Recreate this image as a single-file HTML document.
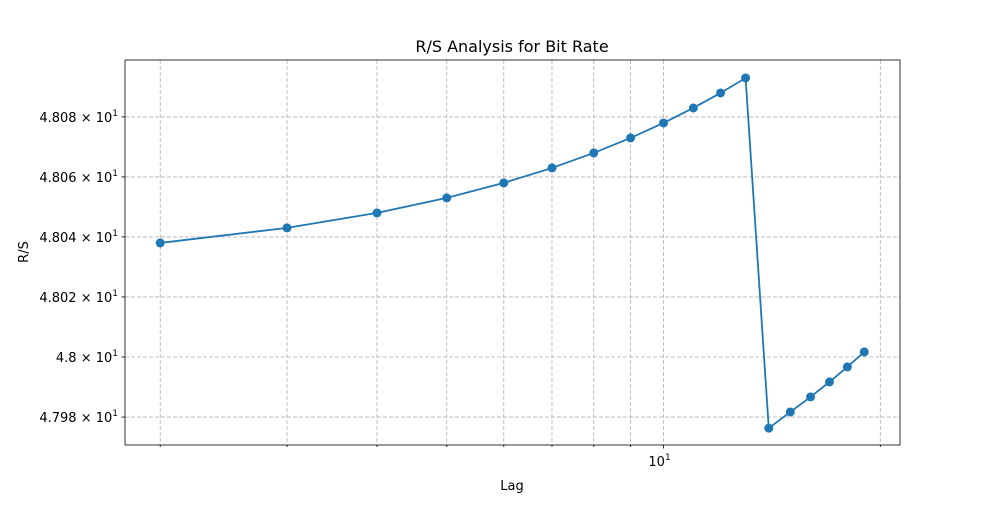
<!DOCTYPE html>
<html><head><meta charset="utf-8"><style>
body{margin:0;background:#fff;}
svg{font-family:"DejaVu Sans","Liberation Sans",sans-serif;}
</style></head><body>
<svg id="chart" width="1000" height="500">
<rect width="1000" height="500" fill="#fff"/>
<text x="512" y="52" text-anchor="middle" font-size="16">R/S Analysis for Bit Rate</text>
<g id="grid"></g>
<g id="axes"></g>
<g id="series"></g>
<text x="512" y="490" text-anchor="middle" font-size="13">Lag</text>
<text transform="translate(28,252) rotate(-90)" text-anchor="middle" font-size="13">R/S</text>
</svg>
<script>
const lags = [2,3,4,5,6,7,8,9,10,11,12,13,14,15,16,17,18,19];
const rsValues = [48.038,48.043,48.048,48.053,48.058,48.063,48.068,48.073,48.078,48.083,48.088,48.093,47.9763,47.9817,47.9867,47.9917,47.9967,48.0017];
const xGridTicks = [2,3,4,5,6,7,8,9,10,20];
const yTicks = [47.98,48.00,48.02,48.04,48.06,48.08];
const yTickLabels = ["4.798","4.8","4.802","4.804","4.806","4.808"];

const L=125,R=900,T=60,B=445;
const xMin=1.787,xMax=21.30,yMin=47.9707,yMax=48.099;
const ns="http://www.w3.org/2000/svg";
function xs(v){return L+(Math.log10(v)-Math.log10(xMin))/(Math.log10(xMax)-Math.log10(xMin))*(R-L);}
function ys(v){return B-(Math.log10(v)-Math.log10(yMin))/(Math.log10(yMax)-Math.log10(yMin))*(B-T);}
function mk(tag,attrs,parent){const e=document.createElementNS(ns,tag);for(const k in attrs)e.setAttribute(k,attrs[k]);parent.appendChild(e);return e;}
const grid=document.getElementById('grid'),axes=document.getElementById('axes'),series=document.getElementById('series');

xGridTicks.forEach(v=>{
  const x=xs(v);
  const g=mk('line',{x1:x,x2:x,y1:T,y2:B,stroke:'#b0b0b0','stroke-dasharray':'4,2','stroke-width':0.8},grid);
  
  
  const major=(v===10);
  const t=mk('line',{x1:x,x2:x,y1:B,y2:B+(major?3.5:2),stroke:'#000','stroke-width':0.8},axes);
  
  
  if(major){
    const tx=mk('text',{x:x-4,y:B+21,'text-anchor':'middle','font-size':13},axes);
    tx.innerHTML='10<tspan font-size="9" dy="-6">1</tspan>';
    
    
  }
});
yTicks.forEach((v,i)=>{
  const y=ys(v);
  const g=mk('line',{x1:L,x2:R,y1:y,y2:y,stroke:'#b0b0b0','stroke-dasharray':'4,2','stroke-width':0.8},grid);
  
  
  const t=mk('line',{x1:L-3.5,x2:L,y1:y,y2:y,stroke:'#000','stroke-width':0.8},axes);
  
  
  const tx=mk('text',{x:L-7,y:y+5,'text-anchor':'end','font-size':13},axes);
  tx.innerHTML=yTickLabels[i]+' \u00d7 10<tspan font-size="9" dy="-6">1</tspan>';
  
  
});
const frame=mk('rect',{x:L,y:T,width:R-L,height:B-T,fill:'none',stroke:'#000','stroke-width':0.8},axes);



const pts=lags.map((l,i)=>xs(l)+','+ys(rsValues[i])).join(' ');
const line=mk('polyline',{points:pts,fill:'none',stroke:'#1f77b4','stroke-width':1.8},series);


lags.forEach((l,i)=>{
  const c=mk('circle',{cx:xs(l),cy:ys(rsValues[i]),r:4.5,fill:'#1f77b4'},series);
  
  
});
</script>
</body></html>
